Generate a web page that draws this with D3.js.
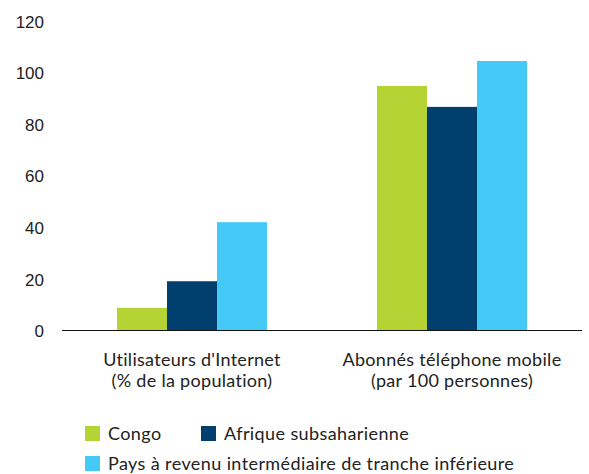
<!DOCTYPE html>
<html>
<head>
<meta charset="utf-8">
<script src="https://cdn.jsdelivr.net/npm/d3@7"></script>
<style>
  html, body { margin: 0; padding: 0; background: #fff; }
  svg { display: block; }
</style>
</head>
<body>
<svg id="chart" width="589" height="474"></svg>
<script>
// Indicator groups (two-line labels)
const categories = [
  ["Utilisateurs d'Internet", "(% de la population)"],
  ["Abonnés téléphone mobile", "(par 100 personnes)"]
];
const seriesNames = ["Congo", "Afrique subsaharienne", "Pays à revenu intermédiaire de tranche inférieure"];
const congo = [8.8, 94.8];
const afrique = [19.1, 86.7];
const pritI = [42.0, 104.5];
const yTicks = [0, 20, 40, 60, 80, 100, 120];
const colors = ["#b5d334", "#003f6e", "#45c9f6"];

const series = [congo, afrique, pritI];
const svg = d3.select("#chart");

const x0 = d3.scaleBand()
  .domain(d3.range(categories.length))
  .range([62, 582])
  .paddingInner(0)
  .paddingOuter(0);
const innerPad = (x0.bandwidth() - 150) / 2;
const x1 = d3.scaleBand()
  .domain(d3.range(series.length))
  .range([innerPad, x0.bandwidth() - innerPad]);

const y = d3.scaleLinear().domain([0, 120]).range([330.5, 21]);

// y tick labels (no axis line)
const yAxis = d3.axisLeft(y).tickValues(yTicks).tickSize(0).tickPadding(0);
const gy = svg.append("g").attr("transform", "translate(44,0)").call(yAxis);
gy.select(".domain").remove();
gy.selectAll("text")
  .attr("font-family", "'Liberation Sans', Arial, sans-serif")
  .attr("font-size", 17)
  .attr("fill", "#222")
  .attr("dy", "0.36em");

// bars
const groups = svg.append("g").selectAll("g")
  .data(categories)
  .join("g")
  .attr("transform", (d, i) => `translate(${x0(i)},0)`);

groups.selectAll("rect")
  .data((d, i) => series.map((s, k) => ({ k, v: s[i] })))
  .join("rect")
  .attr("x", d => x1(d.k))
  .attr("width", x1.bandwidth())
  .attr("y", d => y(d.v))
  .attr("height", d => y(0) - y(d.v))
  .attr("fill", d => colors[d.k]);

// baseline
svg.append("line")
  .attr("x1", 62).attr("x2", 582)
  .attr("y1", y(0)).attr("y2", y(0))
  .attr("stroke", "#111").attr("stroke-width", 1.2);

// category labels
const catFont = "Lato, 'Open Sans', sans-serif";
groups.each(function (d, i) {
  const t = d3.select(this).append("text")
    .attr("text-anchor", "middle")
    .attr("font-family", catFont)
    .attr("font-size", 18)
    .attr("letter-spacing", 0.3)
    .attr("fill", "#222");
  d.forEach((line, j) => {
    t.append("tspan")
      .attr("x", x0.bandwidth() / 2)
      .attr("y", 366 + j * 21)
      .text(line);
  });
});

// legend
const legendPos = [
  { x: 85, y: 426 },
  { x: 201, y: 426 },
  { x: 85, y: 456 }
];
const legend = svg.append("g").selectAll("g")
  .data(seriesNames)
  .join("g")
  .attr("transform", (d, i) => `translate(${legendPos[i].x},${legendPos[i].y})`);
legend.append("rect")
  .attr("width", 15).attr("height", 15)
  .attr("fill", (d, i) => colors[i]);
legend.append("text")
  .attr("x", 23).attr("y", 7.5)
  .attr("dy", "0.36em")
  .attr("font-family", catFont)
  .attr("font-size", 18)
  .attr("letter-spacing", 0.4)
  .attr("fill", "#222")
  .text(d => d);
</script>
</body>
</html>
